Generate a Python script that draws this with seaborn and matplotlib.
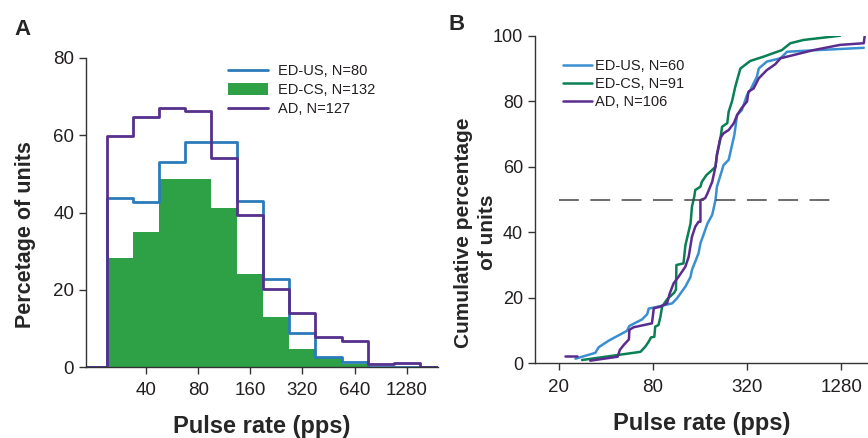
import numpy as np
import pandas as pd
import matplotlib
matplotlib.use("Agg")
import matplotlib.pyplot as plt
import seaborn as sns
from matplotlib.ticker import FixedLocator, FixedFormatter, NullLocator

# ---- Panel A: distribution of best pulse rates (half-octave bins) ----
# the outer bins hold no units; they close the outlines down to zero
bin_centers = [20.0, 28.3, 40, 56.6, 80, 113.1, 160, 226.3, 320, 452.5, 640, 905.1,
               1280, 1810.2]
pct_ed_us = [0.0, 43.7, 42.6, 53.2, 58.2, 58.2, 42.9, 22.9, 8.9, 2.7, 1.2, 0.0, 0.0, 0.0]
pct_ed_cs = [0.0, 28.1, 35.0, 48.6, 48.6, 41.1, 24.2, 12.9, 4.7, 2.3, 0.85, 0.0, 0.0, 0.0]
pct_ad = [0.0, 59.9, 64.6, 67.0, 66.4, 54.2, 39.3, 20.2, 14.0, 7.7, 6.8, 0.8, 0.95, 0.0]
hist_ticks = [40, 80, 160, 320, 640, 1280]

# ---- Panel B: cumulative distributions ----
us_rate = [25.6, 34.3, 36.0, 41.7, 54.6, 56.6, 68.2, 73.6, 75.2, 82.8, 106.3, 113.9,
           129.1, 139.3, 142.2, 156.7, 161.1, 178.8, 191.6, 201.1, 205.4, 221.6, 226.3,
           244.2, 265.4, 276.6, 296.5, 320.0, 335.9, 370.2, 380.5, 428.1, 523.5, 576.8,
           898.7, 1785.0]
us_pct = [1.4, 3.2, 4.9, 6.9, 9.9, 11.4, 13.4, 15.0, 16.7, 17.1, 18.3, 19.8,
          23.4, 26.4, 28.5, 33.6, 36.6, 42.7, 45.3, 49.8, 53.9, 59.0, 60.5,
          62.1, 69.7, 75.8, 77.3, 81.9, 83.4, 87.5, 90.0, 92.1, 93.1, 95.1,
          95.6, 96.3]

cs_rate = [28.2, 66.6, 71.6, 75.2, 77.8, 81.7, 82.8, 86.9, 89.4, 91.6, 98.5, 109.3,
           112.4, 113.1, 125.5, 128.2, 129.1, 139.3, 142.2, 147.2, 149.3, 161.1, 164.5,
           176.3, 186.4, 201.1, 205.4, 215.6, 221.6, 239.2, 244.2, 256.3, 269.1, 278.6,
           290.4, 335.9, 407.8, 534.5, 605.5, 735.2, 1262.0]
cs_pct = [1.0, 3.5, 5.1, 6.6, 7.9, 8.1, 11.2, 11.7, 14.2, 17.3, 19.5, 21.5,
          22.5, 30.0, 30.5, 34.6, 36.0, 42.7, 47.8, 50.9, 52.9, 53.9, 55.4,
          57.5, 58.5, 60.0, 63.6, 68.2, 72.2, 73.3, 76.8, 79.9, 84.4, 87.0,
          90.0, 92.3, 93.6, 95.6, 97.7, 98.7, 100.0]

ad_rate = [21.8, 26.2, 31.8, 47.6, 49.2, 52.1, 56.2, 56.6, 60.2, 78.9, 81.1, 89.4,
           98.5, 102.7, 108.5, 117.1, 129.1, 135.5, 142.2, 149.3, 156.7, 161.1, 161.1,
           172.7, 178.8, 191.6, 201.1, 205.4, 215.6, 226.3, 244.2, 263.5, 276.6, 296.5,
           320.0, 326.7, 352.6, 380.5, 428.1, 485.0, 523.5, 635.6, 850.4, 1262.0,
           1785.0, 1810.0]
ad_pct = [2.2, 2.2, 0.8, 2.0, 4.1, 5.6, 7.3, 10.2, 11.0, 12.2, 16.8, 17.3,
          18.3, 21.4, 24.4, 26.5, 29.5, 32.5, 38.6, 41.7, 43.2, 43.2, 49.8,
          50.4, 51.9, 55.4, 60.0, 63.6, 68.7, 70.2, 71.2, 73.3, 75.8, 78.0,
          79.9, 82.9, 83.9, 87.0, 89.5, 91.3, 93.1, 94.1, 95.6, 97.2,
          97.7, 100.0]
ad_trace_restart = 2  # the AD trace starts again after its first two points

cum_ticks = [20, 80, 320, 1280]
median_x = [20, 1200]
median_y = [50, 50]

BLUE_A, GREEN_A, PURPLE_A = "#2b7bbb", "#2ea147", "#55308d"
BLUE_B, GREEN_B, PURPLE_B = "#3a8fd0", "#0a8055", "#5b2c8f"
INK = "#231f20"

sns.set_style("ticks")
plt.rcParams["font.family"] = ["Liberation Sans", "DejaVu Sans"]

fig = plt.figure(figsize=(8.68, 4.38), dpi=100)
ax_a = fig.add_axes([86 / 868, 71 / 438, 352 / 868, 309 / 438])
ax_b = fig.add_axes([535 / 868, 74.7 / 438, 333 / 868, 327.6 / 438])

# ---------- Panel A ----------
centers = np.array(bin_centers)
edges = np.append(centers / 2 ** 0.25, centers[-1] * 2 ** 0.25)
log_edges = list(np.log2(edges))  # histplot bins live in the axis' log2 space

sns.histplot(x=bin_centers, weights=pct_ed_cs, bins=log_edges, log_scale=2,
             element="step", fill=True, color=GREEN_A, alpha=1, linewidth=0,
             ax=ax_a, label="ED-CS, N=132")
sns.histplot(x=bin_centers, weights=pct_ed_us, bins=log_edges, log_scale=2,
             element="step", fill=False, color=BLUE_A, linewidth=2.0,
             ax=ax_a, label="ED-US, N=80")
sns.histplot(x=bin_centers, weights=pct_ad, bins=log_edges, log_scale=2,
             element="step", fill=False, color=PURPLE_A, linewidth=2.0,
             ax=ax_a, label="AD, N=127")

ax_a.set_xlim(18.0, 1940)
ax_a.set_ylim(0, 80)
ax_a.xaxis.set_major_locator(FixedLocator(hist_ticks))
ax_a.xaxis.set_major_formatter(FixedFormatter([str(t) for t in hist_ticks]))
ax_a.xaxis.set_minor_locator(NullLocator())
ax_a.set_yticks([0, 20, 40, 60, 80])
ax_a.set_xlabel("Pulse rate (pps)", fontsize=17, fontweight="bold", labelpad=11)
ax_a.set_ylabel("Percetage of units", fontsize=15.5, fontweight="bold")
ax_a.yaxis.set_label_coords(-0.142, 0.427)

handles, labels = ax_a.get_legend_handles_labels()
order = [labels.index(l) for l in ["ED-US, N=80", "ED-CS, N=132", "AD, N=127"]]
ax_a.legend([handles[i] for i in order], [labels[i] for i in order],
            loc="upper left", bbox_to_anchor=(0.365, 1.023), frameon=False,
            fontsize=10.5, handlelength=2.75, handleheight=0.8, labelspacing=0.35,
            handletextpad=0.7, labelcolor=INK)

# ---------- Panel B ----------
groups = (["ED-US, N=60"] * len(us_rate) + ["ED-CS, N=91"] * len(cs_rate)
          + ["AD, N=106"] * len(ad_rate))
trace = ([0] * len(us_rate) + [0] * len(cs_rate)
         + [0] * ad_trace_restart + [1] * (len(ad_rate) - ad_trace_restart))
cum_df = pd.DataFrame({
    "rate": us_rate + cs_rate + ad_rate,
    "pct": us_pct + cs_pct + ad_pct,
    "group": groups,
    "trace": trace,
})
sns.lineplot(data=cum_df, x="rate", y="pct", hue="group", units="trace",
             estimator=None, sort=False, linewidth=1.8,
             hue_order=["ED-US, N=60", "ED-CS, N=91", "AD, N=106"],
             palette=[BLUE_B, GREEN_B, PURPLE_B], ax=ax_b)
ax_b.plot(median_x, median_y, color="#444444", linewidth=1.1,
          linestyle=(0, (13, 7.5)))

ax_b.set_xscale("log", base=2)
ax_b.set_xlim(14.1, 1900)
ax_b.set_ylim(0, 100)
ax_b.xaxis.set_major_locator(FixedLocator(cum_ticks))
ax_b.xaxis.set_major_formatter(FixedFormatter([str(t) for t in cum_ticks]))
ax_b.xaxis.set_minor_locator(NullLocator())
ax_b.set_yticks([0, 20, 40, 60, 80, 100])
ax_b.set_xlabel("Pulse rate (pps)", fontsize=17, fontweight="bold", labelpad=12)
ax_b.set_ylabel("Cumulative percentage\nof units", fontsize=15, fontweight="bold",
                linespacing=1.35)
ax_b.yaxis.set_label_coords(-0.114, 0.40)
ax_b.legend(loc="upper left", bbox_to_anchor=(0.045, 0.97), frameon=False,
            fontsize=10.5, handlelength=2.0, labelspacing=0.3, handletextpad=0.2,
            labelcolor=INK)

for ax, ysize in ((ax_a, 13.5), (ax_b, 13)):
    sns.despine(ax=ax)
    for side in ("left", "bottom"):
        ax.spines[side].set_color("#333333")
        ax.spines[side].set_linewidth(1.0)
    ax.tick_params(axis="both", direction="out", length=5, width=1, color="#333333")
    ax.tick_params(axis="y", labelsize=ysize, labelcolor=INK)
    ax.tick_params(axis="x", labelsize=13.5, labelcolor=INK, pad=6)

fig.text(14 / 868, 1 - 35 / 438, "A", fontsize=16, fontweight="bold")
fig.text(448 / 868, 1 - 30 / 438, "B", fontsize=16, fontweight="bold")

fig.savefig("out.png", dpi=100)
